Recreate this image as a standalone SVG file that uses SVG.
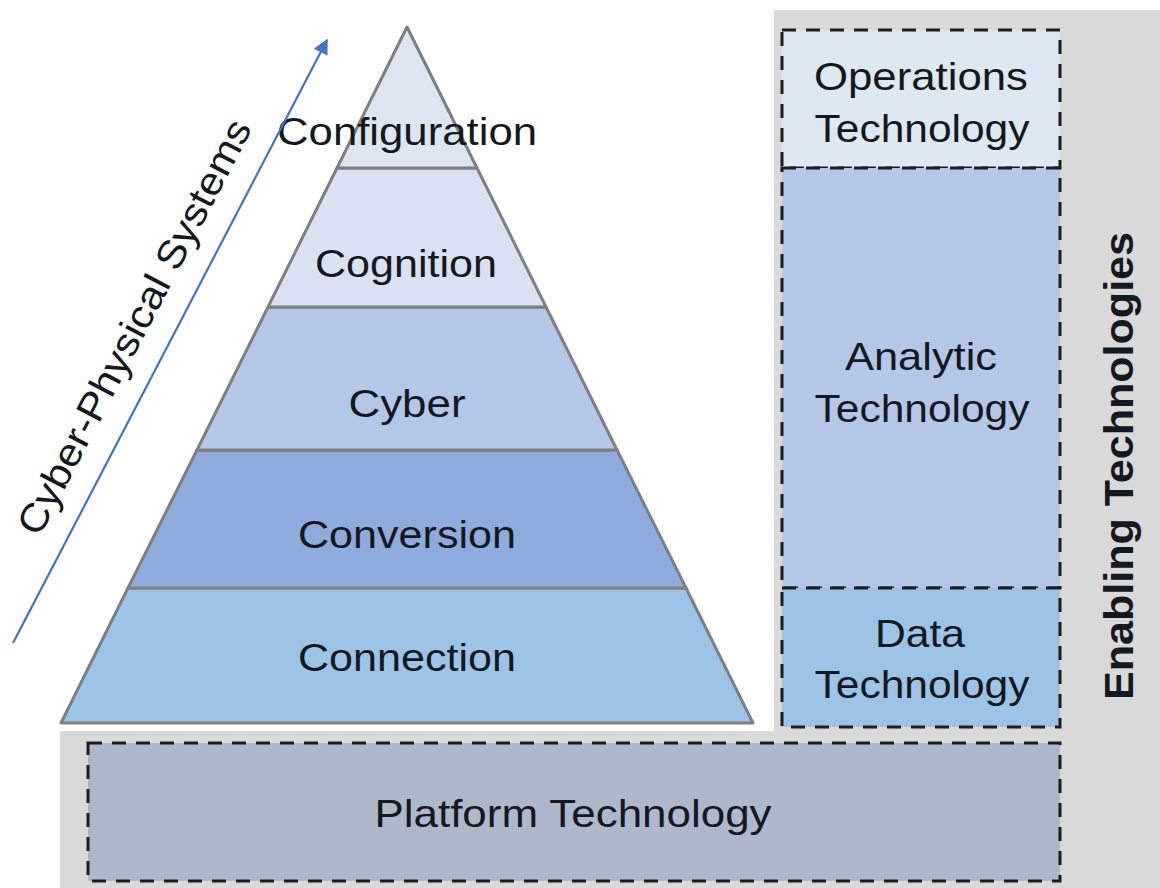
<svg xmlns="http://www.w3.org/2000/svg" width="1160" height="888" viewBox="0 0 1160 888">
  <style>
    .lbl { font-family: "Liberation Sans", Arial, sans-serif; font-size: 39px; fill: #141820; text-anchor: middle; }
    .bold { font-weight: bold; font-size: 40px; }
    .layer { stroke: #7f7f7f; stroke-width: 3; stroke-linejoin: round; }
    .dash { stroke: #1c1c1c; stroke-width: 3; stroke-dasharray: 14 10; }
    .cps { stroke: #4472c4; stroke-width: 2.2; fill: none; }
  </style>
  <defs>
    <marker id="arrowhead" viewBox="0 0 10 10" refX="9" refY="5" markerWidth="7" markerHeight="7" markerUnits="strokeWidth" orient="auto">
      <path d="M0,0 L10,5 L0,10 Z" fill="#4472c4"/>
    </marker>
  </defs>

  <rect x="0" y="0" width="1160" height="888" fill="#ffffff"/>

  <!-- L-shaped backdrop behind the enabling technologies -->
  <polygon id="backdrop" points="774,10 1160,10 1160,888 60,888 60,731 774,731" fill="#d9d9d9"/>

  <!-- 5C pyramid, bottom to top -->
  <g id="layer-connection">
    <polygon class="layer" points="128,588 686,588 753,723 61,723" fill="#9dc3e6"/>
    <text class="lbl" x="407" y="671" textLength="218" lengthAdjust="spacingAndGlyphs">Connection</text>
  </g>
  <g id="layer-conversion">
    <polygon class="layer" points="197,450 617,450 686,588 128,588" fill="#8faadc"/>
    <text class="lbl" x="407" y="548" textLength="218" lengthAdjust="spacingAndGlyphs">Conversion</text>
  </g>
  <g id="layer-cyber">
    <polygon class="layer" points="268,307 546,307 617,450 197,450" fill="#b4c7e7"/>
    <text class="lbl" x="407" y="417" textLength="117" lengthAdjust="spacingAndGlyphs">Cyber</text>
  </g>
  <g id="layer-cognition">
    <polygon class="layer" points="337,168 477,168 546,307 268,307" fill="#d9e1f2"/>
    <text class="lbl" x="406" y="277" textLength="182" lengthAdjust="spacingAndGlyphs">Cognition</text>
  </g>
  <g id="layer-configuration">
    <polygon class="layer" points="407,27 477,168 337,168" fill="#dde6f0"/>
    <text class="lbl" x="407" y="145" textLength="260" lengthAdjust="spacingAndGlyphs">Configuration</text>
  </g>

  <!-- Enabling technologies column -->
  <g id="tech-operations">
    <rect class="dash" x="782" y="30" width="278" height="138" fill="#dde8f3"/>
    <text class="lbl" x="921" y="90" textLength="214" lengthAdjust="spacingAndGlyphs">Operations</text>
    <text class="lbl" x="922" y="142" textLength="215" lengthAdjust="spacingAndGlyphs">Technology</text>
  </g>
  <g id="tech-analytic">
    <rect class="dash" x="782" y="168" width="278" height="420" fill="#b4c7e7"/>
    <text class="lbl" x="921" y="370" textLength="152" lengthAdjust="spacingAndGlyphs">Analytic</text>
    <text class="lbl" x="922" y="422" textLength="215" lengthAdjust="spacingAndGlyphs">Technology</text>
  </g>
  <g id="tech-data">
    <rect class="dash" x="782" y="588" width="278" height="139" fill="#9dc3e6"/>
    <text class="lbl" x="920" y="647" textLength="90" lengthAdjust="spacingAndGlyphs">Data</text>
    <text class="lbl" x="922" y="698" textLength="215" lengthAdjust="spacingAndGlyphs">Technology</text>
  </g>
  <g id="tech-platform">
    <rect class="dash" x="88" y="743" width="972" height="138" fill="#adb9ca"/>
    <text class="lbl" x="573" y="827" textLength="397" lengthAdjust="spacingAndGlyphs">Platform Technology</text>
  </g>
  <g id="enabling-title">
    <text class="lbl bold" transform="translate(1133,466) rotate(-90)" textLength="468" lengthAdjust="spacingAndGlyphs">Enabling Technologies</text>
  </g>

  <!-- CPS progression arrow -->
  <g id="connectors">
    <line class="cps" x1="13" y1="643" x2="327" y2="40" marker-end="url(#arrowhead)"/>
  </g>
  <g id="cps-label">
    <text class="lbl" transform="translate(146,333) rotate(-62.5)" font-size="40" textLength="462" lengthAdjust="spacingAndGlyphs">Cyber-Physical Systems</text>
  </g>
</svg>
